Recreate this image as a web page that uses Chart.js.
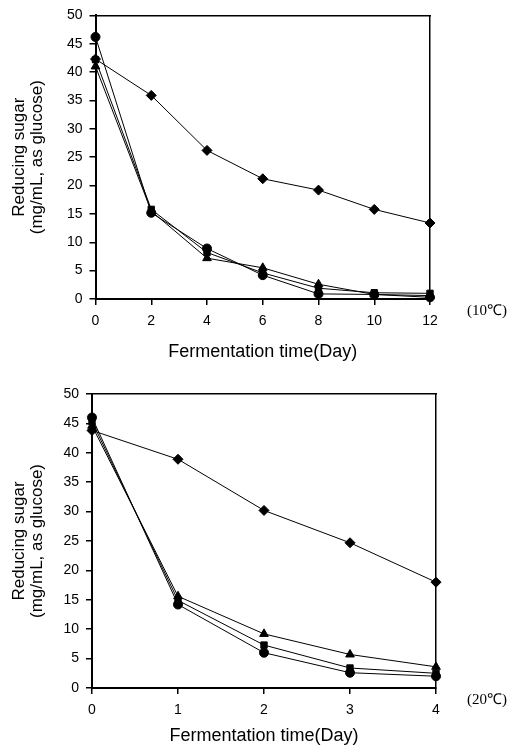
<!DOCTYPE html>
<html>
<head>
<meta charset="utf-8">
<script src="https://cdn.jsdelivr.net/npm/chart.js@4.4.0/dist/chart.umd.min.js"></script>
<style>
  body { margin: 0; background: #fff; }
  #wrap { position: relative; width: 527px; height: 753px; }
  canvas { position: absolute; left: 0; }
  .temp { position: absolute; font-family: 'Liberation Serif', serif; font-size: 15px; color: #000; }
</style>
</head>
<body>
<div id="wrap">
  <canvas id="chart10" width="527" height="365" style="top:0"></canvas>
  <canvas id="chart20" width="527" height="383" style="top:370px"></canvas>
  <div class="temp" style="left:467px; top:299px">(10℃)</div>
  <div class="temp" style="left:467px; top:688px">(20℃)</div>
</div>
<script>
// 10°C fermentation
const days10 = [0, 2, 4, 6, 8, 10, 12];
const diamond10 = [42.3, 35.9, 26.2, 21.2, 19.2, 15.8, 13.4];
const square10 = [42.2, 15.8, 8.2, 4.6, 1.9, 1.1, 1.0];
const triangle10 = [41.0, 15.5, 7.2, 5.5, 2.6, 0.8, 0.6];
const circle10 = [46.2, 15.2, 8.9, 4.2, 0.9, 0.8, 0.3];

// 20°C fermentation
const days20 = [0, 1, 2, 3, 4];
const diamond20 = [43.8, 38.9, 30.2, 24.7, 18.0];
const square20 = [45.3, 14.9, 7.3, 3.4, 2.5];
const triangle20 = [44.6, 15.6, 9.2, 5.7, 3.6];
const circle20 = [46.0, 14.2, 6.0, 2.6, 2.0];

const xTitle = 'Fermentation time(Day)';
const yTitle = ['Reducing sugar', '(mg/mL, as glucose)'];

const tickFont = { family: 'Liberation Sans', size: 14 };
const xTitleFont = { family: 'Liberation Sans', size: 18, lineHeight: 1 };
const yTitleFont = { family: 'Liberation Sans', size: 17, lineHeight: 1.06 };

function series(days, values, style, radius) {
    return {
        data: days.map((d, i) => ({ x: d, y: values[i] })),
        pointStyle: style,
        pointRadius: radius,
        borderColor: '#000',
        backgroundColor: '#000',
        pointBackgroundColor: '#000',
        pointBorderColor: '#000',
        borderWidth: 1,
        tension: 0,
        clip: false
    };
}

function makeChart(id, days, sets, xMax, xStep, area, canvasH, titlePad) {
    const ctx = document.getElementById(id).getContext('2d');
    return new Chart(ctx, {
        type: 'line',
        data: {
            datasets: [
                series(days, sets[0], 'rectRot', 5),
                series(days, sets[1], 'rect', 4.5),
                series(days, sets[2], 'triangle', 5),
                series(days, sets[3], 'circle', 4.5)
            ]
        },
        options: {
            responsive: false,
            animation: false,
            layout: { padding: { left: 0, top: area.top - 10, right: 527 - area.right - 10, bottom: 0 } },
            plugins: { legend: { display: false }, tooltip: { enabled: false } },
            scales: {
                x: {
                    type: 'linear', min: 0, max: xMax, position: 'bottom',
                    ticks: { stepSize: xStep, color: '#000', font: tickFont, padding: 8 },
                    grid: { drawOnChartArea: false, color: '#000', tickLength: 6, lineWidth: 1.5 },
                    border: { color: '#000', width: 2 },
                    title: { display: true, text: xTitle, color: '#000', font: xTitleFont, padding: { top: 0, bottom: titlePad } },
                    afterFit: s => { s.height = canvasH - area.bottom; }
                },
                x2: {
                    type: 'linear', position: 'top',
                    ticks: { display: false },
                    grid: { display: false },
                    border: { color: '#000', width: 1.5 },
                    afterFit: s => { s.height = 10; }
                },
                y: {
                    min: 0, max: 50, position: 'left',
                    ticks: { stepSize: 5, color: '#000', font: tickFont, padding: 7 },
                    grid: { drawOnChartArea: false, color: '#000', tickLength: 6, lineWidth: 1.5 },
                    border: { color: '#000', width: 2 },
                    title: { display: true, text: yTitle, color: '#000', font: yTitleFont, padding: { top: 10, bottom: 0 } },
                    afterFit: s => { s.width = area.left; }
                },
                y2: {
                    type: 'linear', position: 'right',
                    ticks: { display: false },
                    grid: { display: false },
                    border: { color: '#000', width: 1.5 },
                    afterFit: s => { s.width = 10; }
                }
            }
        }
    });
}

makeChart('chart10', days10, [diamond10, square10, triangle10, circle10], 12, 2,
    { left: 95.5, right: 430, top: 10, bottom: 299 }, 365, 4);
makeChart('chart20', days20, [diamond20, square20, triangle20, circle20], 4, 1,
    { left: 92, right: 436, top: 24, bottom: 318 }, 383, 8);
</script>
</body>
</html>
